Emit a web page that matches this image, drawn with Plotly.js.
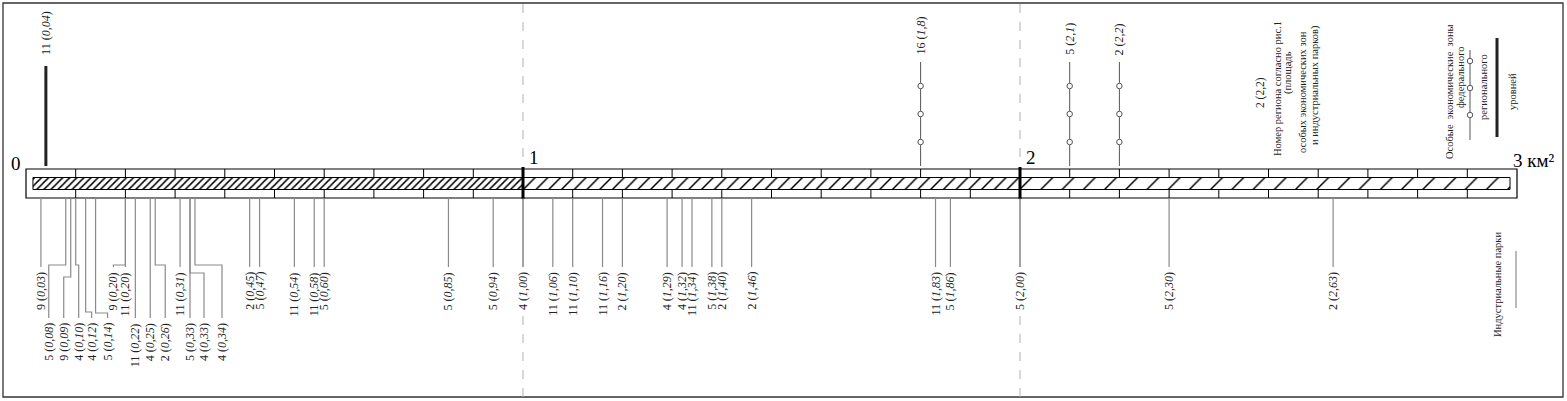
<!DOCTYPE html>
<html><head><meta charset="utf-8">
<script src="https://cdn.plot.ly/plotly-3.0.1.min.js"></script>
<style>html,body{margin:0;padding:0;background:#fff}#chart{width:1567px;height:401px}</style>
</head><body><div id="chart"></div>
<script>
// ---------- DATA ----------
// Industrial parks: region number and area, km²
const parkRegions = [9,5,9,4,4,5,9,11,11,4,2,11,5,4,4,2,5,11,11,5,5,5,4,11,11,11,2,4,4,11,5,2,2,11,5,5,5,2];
const parkAreas   = [0.03,0.08,0.09,0.10,0.12,0.14,0.20,0.20,0.22,0.25,0.26,0.31,0.33,0.33,0.34,0.45,0.47,0.54,0.58,0.60,0.85,0.94,1.00,1.06,1.10,1.16,1.20,1.29,1.32,1.34,1.38,1.40,1.46,1.83,1.86,2.00,2.30,2.63];
// Special economic zones: region number, area km², level
const sezRegions = [11,16,5,2];
const sezAreas   = [0.04,1.8,2.1,2.2];
const sezLevels  = ['regional','federal','federal','federal'];
// Scale tick labels
const scaleValues = [0,1,2,3];
const scaleLabels = ['0','1','2','3 км²'];

// ---------- LAYOUT HELPERS (label placement for crowded parks) ----------
// row: U = upper label row, L = lower label row; shift in px; elbow y
const labelRow   = ['U','L','L','L','L','L','U','U','L','L','L','U','L','L','L','U','U','U','U','U','U','U','U','U','U','U','U','U','U','U','U','U','U','U','U','U','U','U'];
const labelShift = {1:-17,2:-7,3:3,4:6,5:12,6:-12,10:10,13:14,14:27};
const labelElbow = {1:265,2:277,3:265,4:312,5:313,6:265,10:265,13:273,14:265};

const FONT = 'Liberation Serif, Times New Roman, serif';
const shapes = [], annotations = [], traces = [];
const fmt = v => String(v).replace('.', ',');

// ---------- hatched band ----------
const segs = [[0.014,1,5,0.3],[1,2,9,0.17],[2,2.986,15,0.1]];
segs.forEach(s => traces.push({
  type:'bar', orientation:'h', y:[183.5], base:[s[0]], x:[s[1]-s[0]], width:12,
  marker:{color:'white', line:{color:'#000', width:1},
    pattern:{shape:'/', size:s[2], solidity:s[3], fgcolor:'#000', bgcolor:'#fff', fgopacity:1}},
  hoverinfo:'skip', showlegend:false, xaxis:'x', yaxis:'y'
}));

// outer frame
shapes.push({type:'rect', xref:'x2', yref:'y', x0:3, x1:1563, y0:3, y1:397, line:{color:'#333', width:1.3}});
// scale rectangle
shapes.push({type:'rect', xref:'x', yref:'y', x0:0, x1:3, y0:169, y1:198, line:{color:'#000', width:1.2}, layer:'below'});
// minor ticks every 0.1
for (let k=1;k<30;k++){
  if (k%10===0) continue;
  const v = k/10;
  shapes.push({type:'line', xref:'x', yref:'y', x0:v, x1:v, y0:169, y1:177.5, line:{color:'#000', width:1}});
  shapes.push({type:'line', xref:'x', yref:'y', x0:v, x1:v, y0:189.5, y1:198, line:{color:'#000', width:1}});
}
// dashed guides and thick ticks at whole km²
[1,2].forEach(v => {
  shapes.push({type:'line', xref:'x', yref:'y', x0:v, x1:v, y0:4, y1:166, line:{color:'#b0b0b0', width:1, dash:'dash'}});
  shapes.push({type:'line', xref:'x', yref:'y', x0:v, x1:v, y0:316, y1:397, line:{color:'#b0b0b0', width:1, dash:'dash'}});
  shapes.push({type:'line', xref:'x', yref:'y', x0:v, x1:v, y0:167, y1:199, line:{color:'#000', width:3}});
});
// scale labels
scaleValues.forEach((v,i) => {
  annotations.push({xref:'x', yref:'y', x:v, y: v===0 ? 163 : (v===3 ? 160 : 157),
    text:scaleLabels[i], showarrow:false, xanchor: v===0 ? 'right' : 'left', xshift: v===0 ? -3 : (v===3? -6 : 4), yanchor:'middle',
    font:{family:FONT, size:19, color:'#000'}});
});

// ---------- industrial parks ----------
parkAreas.forEach((v,i) => {
  const row = labelRow[i];
  const sh = labelShift[i] || 0;
  const end = row==='U' ? 267 : 318;
  let path;
  if (labelElbow[i] !== undefined) {
    const e = labelElbow[i];
    path = `M0,198 L0,${e} L${sh},${e} L${sh},${end}`;
  } else {
    path = `M0,198 L0,${end}`;
  }
  shapes.push({type:'path', xref:'x', yref:'y', xsizemode:'pixel', xanchor:v, path:path,
    line:{color:(v===1||v===2)?'#666':'#8a8a8a', width:1.2}});
  annotations.push({xref:'x', yref:'y', x:v, xshift:sh, y: row==='U' ? 270 : 321,
    yanchor:'top', xanchor:'center', textangle:-90, showarrow:false,
    text:`${parkRegions[i]} (<i>${parkAreas[i].toFixed(2).replace('.',',')}</i>)`,
    font:{family:FONT, size:12, color:'#222'}});
});

// ---------- special economic zones ----------
sezAreas.forEach((v,i) => {
  if (sezLevels[i]==='regional') {
    traces.push({type:'scatter', mode:'lines', x:[v,v], y:[66,166], line:{color:'#222', width:3}, hoverinfo:'skip', showlegend:false});
  } else {
    traces.push({type:'scatter', mode:'lines', x:[v,v], y:[62,166], line:{color:'#555', width:1}, hoverinfo:'skip', showlegend:false});
    traces.push({type:'scatter', mode:'markers', x:[v,v,v], y:[86,114,142],
      marker:{symbol:'circle', size:5.5, color:'#fff', line:{color:'#555', width:1}}, hoverinfo:'skip', showlegend:false});
  }
  annotations.push({xref:'x', yref:'y', x:v, y:57, yanchor:'bottom', xanchor:'center', textangle:-90, showarrow:false,
    text:`${sezRegions[i]} (<i>${fmt(v)}</i>)`, font:{family:FONT, size:12, color:'#222'}});
});

// ---------- legend (pixel axis x2) ----------
const legTxt = (x,y,t,size) => annotations.push({xref:'x2', yref:'y', x:x, y:y, text:t, textangle:-90, showarrow:false,
  xanchor:'center', yanchor:'middle', font:{family:FONT, size:size||10.5, color:'#222'}});
legTxt(1260,93,'2 (2,2)',11.5);
legTxt(1277,89,'Номер региона согласно рис.1');
legTxt(1288,73,'(площадь');
legTxt(1302,92,'особых экономических зон');
legTxt(1315,85,'и индустриальных парков)');
legTxt(1449,92,'Особые\u00a0 экономические\u00a0 зоны');
legTxt(1460,77,'федерального');
legTxt(1483,87,'регионального');
legTxt(1512,92,'уровней');
legTxt(1497,285,'Индустриальные парки');
traces.push({type:'scatter', mode:'lines', xaxis:'x2', x:[1470,1470], y:[50,140], line:{color:'#555', width:1}, hoverinfo:'skip', showlegend:false});
traces.push({type:'scatter', mode:'markers', xaxis:'x2', x:[1470,1470,1470], y:[61,88,115],
  marker:{symbol:'circle', size:5.5, color:'#fff', line:{color:'#555', width:1}}, hoverinfo:'skip', showlegend:false});
traces.push({type:'scatter', mode:'lines', xaxis:'x2', x:[1497,1497], y:[38,137], line:{color:'#222', width:3}, hoverinfo:'skip', showlegend:false});
traces.push({type:'scatter', mode:'lines', xaxis:'x2', x:[1516,1516], y:[251,308], line:{color:'#8a8a8a', width:1.2}, hoverinfo:'skip', showlegend:false});

const layout = {
  width:1567, height:401, margin:{l:0,r:0,t:0,b:0,pad:0},
  paper_bgcolor:'#fff', plot_bgcolor:'#fff', showlegend:false, barmode:'overlay',
  xaxis:{range:[-0.05231,3.1006], visible:false, fixedrange:true},
  xaxis2:{range:[0,1567], visible:false, overlaying:'x', anchor:'y', fixedrange:true},
  yaxis:{range:[401,0], visible:false, fixedrange:true},
  shapes:shapes, annotations:annotations
};
Plotly.newPlot('chart', traces, layout, {staticPlot:true, displayModeBar:false});
</script></body></html>
